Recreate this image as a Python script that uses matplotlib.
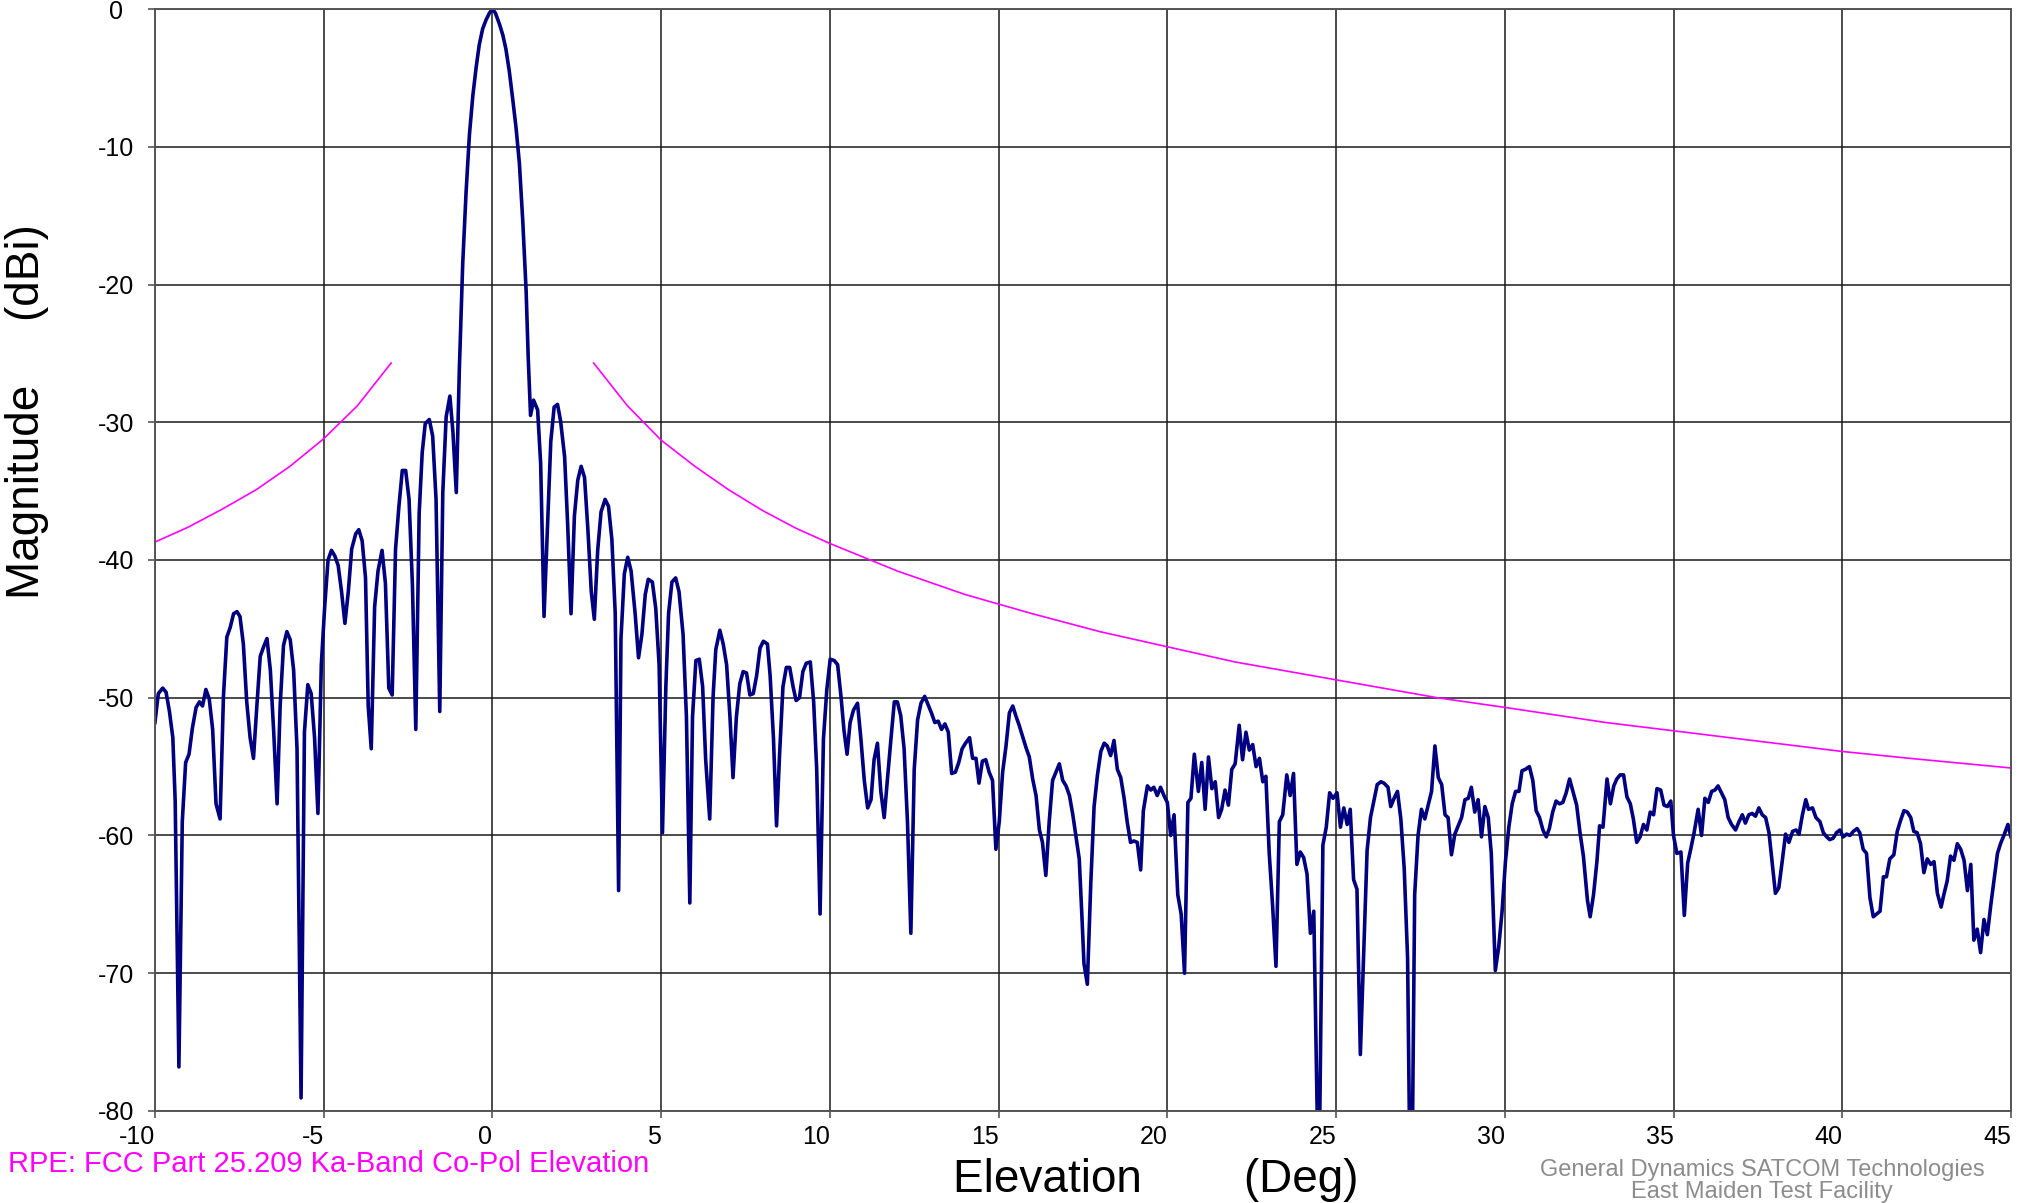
import matplotlib.pyplot as plt

plt.rcParams['font.family'] = ['Liberation Sans', 'DejaVu Sans']
plt.rcParams['axes.unicode_minus'] = False

elev_deg = [
    -10.0, -9.9, -9.77, -9.67, -9.57, -9.47, -9.4, -9.29, -9.19, -9.09, -8.99, -8.89, -8.78, -8.68, -8.59,
    -8.49, -8.39, -8.29, -8.19, -8.07, -7.97, -7.87, -7.77, -7.67, -7.57, -7.48, -7.38, -7.28, -7.18, -7.08,
    -6.98, -6.88, -6.78, -6.68, -6.58, -6.48, -6.38, -6.29, -6.19, -6.09, -5.99, -5.89, -5.79, -5.67, -5.57,
    -5.47, -5.37, -5.27, -5.17, -5.07, -4.97, -4.87, -4.77, -4.67, -4.57, -4.47, -4.37, -4.27, -4.17, -4.05,
    -3.96, -3.86, -3.76, -3.68, -3.59, -3.49, -3.39, -3.27, -3.17, -3.07, -2.97, -2.87, -2.77, -2.67, -2.57,
    -2.47, -2.37, -2.27, -2.17, -2.08, -1.99, -1.87, -1.77, -1.67, -1.56, -1.47, -1.37, -1.26, -1.17, -1.07,
    -0.98, -0.88, -0.78, -0.68, -0.58, -0.48, -0.39, -0.29, -0.19, -0.09, 0.0, 0.09, 0.21, 0.31, 0.4,
    0.5, 0.6, 0.7, 0.8, 0.9, 1.0, 1.06, 1.13, 1.22, 1.34, 1.43, 1.53, 1.63, 1.73, 1.83,
    1.93, 2.02, 2.14, 2.23, 2.33, 2.43, 2.53, 2.63, 2.73, 2.83, 2.93, 3.02, 3.12, 3.22, 3.34,
    3.44, 3.54, 3.64, 3.74, 3.81, 3.91, 4.01, 4.11, 4.23, 4.33, 4.43, 4.53, 4.62, 4.74, 4.84,
    4.94, 5.04, 5.14, 5.22, 5.32, 5.43, 5.53, 5.65, 5.75, 5.85, 5.93, 6.03, 6.13, 6.23, 6.32,
    6.44, 6.54, 6.62, 6.74, 6.84, 6.94, 7.04, 7.13, 7.23, 7.33, 7.43, 7.53, 7.63, 7.73, 7.83,
    7.93, 8.03, 8.15, 8.23, 8.33, 8.42, 8.51, 8.61, 8.71, 8.81, 8.91, 9.0, 9.1, 9.2, 9.3,
    9.42, 9.52, 9.61, 9.71, 9.81, 9.91, 10.01, 10.13, 10.23, 10.33, 10.42, 10.51, 10.6, 10.7, 10.82,
    10.92, 11.02, 11.12, 11.22, 11.31, 11.41, 11.51, 11.61, 11.71, 11.81, 11.91, 12.0, 12.1, 12.2, 12.3,
    12.4, 12.5, 12.6, 12.7, 12.81, 12.91, 13.01, 13.11, 13.21, 13.31, 13.41, 13.51, 13.61, 13.72, 13.82,
    13.92, 14.02, 14.14, 14.23, 14.33, 14.42, 14.52, 14.62, 14.72, 14.82, 14.92, 15.02, 15.12, 15.22, 15.32,
    15.42, 15.51, 15.61, 15.71, 15.81, 15.91, 16.01, 16.11, 16.21, 16.3, 16.4, 16.5, 16.6, 16.7, 16.8,
    16.9, 17.0, 17.1, 17.2, 17.29, 17.39, 17.47, 17.53, 17.63, 17.73, 17.83, 17.93, 18.03, 18.13, 18.22,
    18.32, 18.42, 18.52, 18.62, 18.72, 18.81, 18.91, 19.01, 19.11, 19.21, 19.29, 19.41, 19.51, 19.6, 19.7,
    19.8, 19.9, 20.0, 20.1, 20.2, 20.31, 20.41, 20.51, 20.61, 20.7, 20.8, 20.92, 21.02, 21.12, 21.22,
    21.32, 21.42, 21.52, 21.61, 21.71, 21.81, 21.91, 22.01, 22.13, 22.23, 22.33, 22.43, 22.53, 22.63, 22.73,
    22.83, 22.92, 23.02, 23.12, 23.22, 23.32, 23.42, 23.54, 23.64, 23.74, 23.84, 23.94, 24.04, 24.14, 24.24,
    24.34, 24.44, 24.52, 24.61, 24.71, 24.81, 24.91, 25.03, 25.13, 25.23, 25.33, 25.42, 25.52, 25.62, 25.72,
    25.82, 25.92, 26.02, 26.12, 26.22, 26.33, 26.42, 26.54, 26.62, 26.72, 26.82, 26.92, 27.02, 27.12, 27.17,
    27.27, 27.33, 27.43, 27.53, 27.63, 27.73, 27.83, 27.93, 28.03, 28.13, 28.23, 28.32, 28.42, 28.52, 28.62,
    28.72, 28.82, 28.92, 29.01, 29.11, 29.21, 29.31, 29.41, 29.51, 29.6, 29.72, 29.82, 29.92, 30.02, 30.12,
    30.22, 30.32, 30.42, 30.51, 30.61, 30.73, 30.83, 30.93, 31.03, 31.13, 31.23, 31.32, 31.42, 31.52, 31.62,
    31.72, 31.82, 31.92, 32.02, 32.13, 32.23, 32.33, 32.45, 32.53, 32.63, 32.73, 32.81, 32.91, 33.03, 33.13,
    33.23, 33.32, 33.42, 33.52, 33.62, 33.72, 33.81, 33.91, 34.01, 34.11, 34.21, 34.31, 34.41, 34.51, 34.62,
    34.72, 34.82, 34.92, 35.0, 35.1, 35.22, 35.32, 35.42, 35.51, 35.61, 35.73, 35.83, 35.93, 36.03, 36.13,
    36.23, 36.32, 36.42, 36.52, 36.62, 36.72, 36.84, 36.94, 37.04, 37.13, 37.23, 37.33, 37.43, 37.53, 37.63,
    37.73, 37.83, 37.93, 38.02, 38.12, 38.22, 38.32, 38.42, 38.53, 38.63, 38.72, 38.82, 38.92, 39.0, 39.12,
    39.22, 39.34, 39.44, 39.54, 39.63, 39.73, 39.83, 39.93, 40.03, 40.13, 40.23, 40.33, 40.44, 40.52, 40.62,
    40.72, 40.82, 40.92, 41.02, 41.12, 41.22, 41.31, 41.41, 41.53, 41.63, 41.73, 41.83, 41.93, 42.03, 42.12,
    42.22, 42.32, 42.42, 42.52, 42.62, 42.72, 42.82, 42.93, 43.01, 43.11, 43.21, 43.31, 43.41, 43.51, 43.61,
    43.71, 43.81, 43.9, 44.0, 44.1, 44.2, 44.3, 44.4, 44.5, 44.6, 44.69, 44.79, 44.91, 45.0,
]
mag_dbi = [
    -51.8, -49.7, -49.3, -49.6, -51.0, -52.9, -57.5, -76.8, -59.0, -54.7, -54.1, -52.2, -50.7, -50.3, -50.6,
    -49.4, -50.1, -52.3, -57.7, -58.8, -49.9, -45.6, -44.9, -43.9, -43.75, -44.1, -46.1, -50.3, -52.9, -54.4,
    -50.6, -47.0, -46.3, -45.7, -48.0, -52.5, -57.7, -50.6, -46.2, -45.2, -45.8, -48.0, -53.7, -79.05, -52.5,
    -49.05, -49.7, -52.9, -58.4, -47.6, -43.4, -40.0, -39.3, -39.7, -40.4, -42.3, -44.6, -42.3, -39.2, -38.1,
    -37.8, -38.6, -41.3, -50.6, -53.7, -43.4, -40.8, -39.3, -41.7, -49.3, -49.8, -39.2, -36.1, -33.5, -33.5,
    -35.6, -41.8, -52.3, -36.6, -32.2, -30.1, -29.8, -31.0, -35.6, -51.0, -35.1, -29.6, -28.1, -30.7, -35.1,
    -26.2, -18.5, -13.3, -9.1, -6.3, -4.2, -2.6, -1.45, -0.8, -0.3, 0.0, -0.3, -1.1, -1.9, -2.9,
    -4.5, -6.5, -8.6, -11.2, -15.4, -20.5, -25.2, -29.5, -28.4, -29.1, -33.0, -44.1, -37.7, -31.4, -28.9,
    -28.7, -29.9, -32.5, -37.4, -43.9, -36.8, -34.2, -33.2, -34.0, -37.8, -42.3, -44.3, -39.3, -36.5, -35.6,
    -36.1, -38.5, -43.9, -64.0, -45.7, -41.0, -39.8, -40.8, -43.9, -47.1, -45.4, -42.5, -41.4, -41.6, -43.5,
    -47.6, -59.8, -49.2, -43.9, -41.6, -41.3, -42.3, -45.4, -51.4, -64.9, -51.4, -47.3, -47.2, -49.2, -54.5,
    -58.8, -49.9, -46.5, -45.1, -46.1, -47.6, -51.4, -55.8, -51.4, -49.0, -48.1, -48.2, -49.8, -49.7, -48.4,
    -46.4, -45.9, -46.1, -48.4, -53.0, -59.3, -54.1, -49.2, -47.8, -47.8, -49.2, -50.2, -50.0, -48.1, -47.5,
    -47.4, -50.3, -55.2, -65.7, -53.0, -49.4, -47.2, -47.3, -47.6, -49.9, -52.4, -54.1, -51.8, -50.9, -50.4,
    -53.0, -56.0, -58.0, -57.4, -54.5, -53.3, -56.8, -58.7, -55.8, -53.0, -50.3, -50.3, -51.3, -53.7, -59.0,
    -67.1, -55.2, -51.6, -50.4, -49.9, -50.5, -51.1, -51.8, -51.7, -52.3, -51.9, -52.5, -55.5, -55.4, -54.7,
    -53.7, -53.3, -52.9, -54.4, -54.4, -56.2, -54.6, -54.5, -55.4, -56.0, -61.0, -59.0, -55.4, -53.5, -51.1,
    -50.6, -51.3, -52.0, -52.8, -53.6, -54.3, -55.9, -57.1, -59.6, -60.5, -62.9, -59.0, -56.0, -55.4, -54.8,
    -56.0, -56.4, -57.1, -58.5, -60.0, -61.7, -65.9, -69.3, -70.8, -63.6, -57.9, -55.6, -53.9, -53.3, -53.5,
    -54.2, -53.1, -55.2, -55.8, -57.3, -59.0, -60.5, -60.4, -60.5, -62.5, -58.2, -56.4, -56.7, -56.5, -57.1,
    -56.5, -57.1, -57.6, -60.0, -58.5, -64.3, -65.7, -70.0, -57.6, -57.3, -54.1, -56.8, -54.7, -58.1, -54.3,
    -56.6, -56.1, -58.7, -58.1, -56.7, -57.8, -55.2, -54.8, -52.0, -54.5, -52.5, -53.8, -53.4, -55.0, -54.4,
    -56.1, -55.7, -61.3, -65.1, -69.5, -59.0, -58.5, -55.6, -57.1, -55.5, -62.1, -61.2, -61.6, -62.8, -67.1,
    -65.5, -80.0, -80.0, -60.7, -59.4, -56.9, -57.3, -56.9, -59.4, -58.0, -59.2, -58.1, -63.2, -63.9, -75.9,
    -68.5, -61.1, -58.7, -57.5, -56.3, -56.1, -56.2, -56.5, -57.9, -57.3, -56.8, -58.8, -62.4, -68.9, -80.0,
    -80.0, -64.3, -60.0, -58.1, -58.8, -57.8, -56.8, -53.5, -55.8, -56.3, -58.5, -58.7, -61.4, -59.9, -59.3,
    -58.7, -57.4, -57.3, -56.5, -58.3, -57.4, -60.1, -57.9, -58.7, -61.3, -69.8, -68.1, -65.5, -61.9, -59.4,
    -57.7, -56.8, -56.8, -55.3, -55.2, -55.0, -56.0, -58.2, -58.7, -59.6, -60.1, -59.5, -58.3, -57.5, -57.7,
    -57.6, -56.9, -55.9, -56.8, -57.8, -59.8, -61.5, -64.7, -65.9, -64.3, -61.9, -59.3, -59.4, -55.9, -57.7,
    -56.4, -55.9, -55.6, -55.6, -57.2, -57.7, -58.8, -60.5, -60.1, -59.2, -59.6, -58.3, -58.5, -56.6, -56.7,
    -57.8, -57.9, -57.5, -60.0, -61.3, -61.2, -65.8, -62.0, -61.0, -59.8, -58.1, -60.0, -57.3, -57.6, -56.8,
    -56.7, -56.4, -56.9, -57.4, -58.7, -59.2, -59.6, -59.0, -58.5, -59.1, -58.5, -58.4, -58.6, -58.0, -58.5,
    -58.7, -59.8, -62.1, -64.2, -63.8, -61.9, -59.9, -60.5, -59.7, -59.6, -59.9, -58.5, -57.4, -58.1, -58.0,
    -58.7, -59.0, -59.8, -60.1, -60.3, -60.2, -59.8, -59.6, -60.1, -59.9, -60.0, -59.7, -59.5, -59.8, -61.0,
    -61.3, -64.5, -65.9, -65.7, -65.5, -63.0, -63.0, -61.7, -61.4, -59.7, -58.9, -58.2, -58.3, -58.7, -59.7,
    -59.8, -60.6, -62.7, -61.7, -62.1, -61.9, -64.2, -65.2, -64.3, -63.3, -61.5, -61.8, -60.6, -61.0, -61.8,
    -64.0, -62.1, -67.6, -66.8, -68.5, -66.1, -67.2, -65.1, -63.2, -61.3, -60.6, -60.0, -59.2, -60.1,
]

# RPE envelope (FCC 25.209), two branches outside +/-3 deg
rpe_left_deg = [-10, -9, -8, -7, -6, -5, -4, -3]
rpe_left_db = [-38.7, -37.6, -36.3, -34.9, -33.2, -31.2, -28.8, -25.7]
rpe_right_deg = [3, 4, 5, 6, 7, 8, 9, 10, 12, 14, 16, 18, 20, 22, 25, 28, 30, 33, 35, 38, 40, 42, 45]
rpe_right_db = [-25.7, -28.8, -31.3, -33.2, -34.9, -36.4, -37.7, -38.8, -40.8, -42.5, -43.9, -45.2,
                -46.3, -47.4, -48.7, -50.0, -50.7, -51.8, -52.4, -53.3, -53.9, -54.4, -55.1]

x_ticks = list(range(-10, 46, 5))
y_ticks = list(range(-80, 1, 10))

fig = plt.figure(figsize=(20.28, 12.03), dpi=100)
ax = fig.add_axes([0.0764, 0.0765, 0.9152, 0.916])

ax.plot(rpe_left_deg, rpe_left_db, color='#FF00FF', lw=1.2)
ax.plot(rpe_right_deg, rpe_right_db, color='#FF00FF', lw=1.2)
ax.plot(elev_deg, mag_dbi, color='#000080', lw=2.6)

ax.set_xlim(-10, 45)
ax.set_ylim(-80, 0)
ax.set_xticks(x_ticks)
ax.set_yticks(y_ticks)
ax.grid(True, color='#1a1a1a', lw=1.1)
ax.set_axisbelow(True)
for s in ax.spines.values():
    s.set_color('#555555')
    s.set_linewidth(1.4)

ax.tick_params(axis='both', direction='out', length=5, width=1.2, color='#555555', labelsize=18)
ax.tick_params(axis='x', pad=5)
ax.tick_params(axis='y', pad=23)
for lbl in ax.get_xticklabels():
    lbl.set_horizontalalignment('right')
for lbl in ax.get_yticklabels():
    lbl.set_horizontalalignment('center')

fig.text(0.570, 0.019, 'Elevation        (Deg)', fontsize=33, ha='center', va='center')
fig.text(0.0133, 0.658, 'Magnitude     (dBi)', fontsize=33, rotation=90, ha='center', va='center')
fig.text(0.004, 0.0325, 'RPE: FCC Part 25.209 Ka-Band Co-Pol Elevation', fontsize=21,
         color='#FF00FF', ha='left', va='center')
fig.text(0.869, 0.0275, 'General Dynamics SATCOM Technologies', fontsize=17,
         color='#8c8c8c', ha='center', va='center')
fig.text(0.869, 0.0095, 'East Maiden Test Facility', fontsize=17,
         color='#8c8c8c', ha='center', va='center')

fig.savefig('out.png', dpi=100)
